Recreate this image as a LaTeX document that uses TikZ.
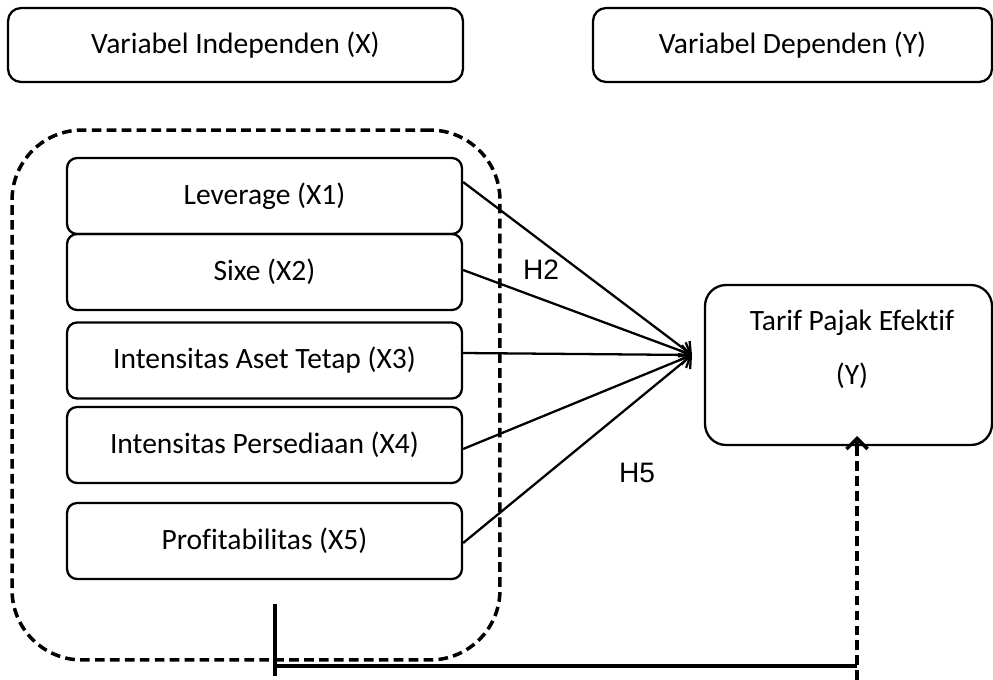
\documentclass[tikz,border=0pt]{standalone}
\usepackage{fontspec}
\setmainfont{Carlito}[Ligatures=NoCommon]
\newfontfamily\arialf{Liberation Sans}
\usetikzlibrary{arrows.meta}
\begin{document}
\begin{tikzpicture}[x=0.02cm,y=-0.02cm,
  txt/.style={font=\fontsize{16.8}{20}\selectfont},
  topbox/.style={draw,line width=1.3pt,rounded corners=0.26cm,minimum height=1.48cm,inner sep=0pt,txt},
  varbox/.style={draw,line width=1.3pt,rounded corners=0.2cm,minimum width=7.9cm,minimum height=1.52cm,inner sep=0pt,txt},
  grp/.style={draw,line width=2pt,dash pattern=on 5.5pt off 3pt,rounded corners=1.4cm,minimum width=9.76cm,minimum height=10.6cm,inner sep=0pt},
  hlab/.style={font=\arialf\fontsize{16}{19}\selectfont},
  arr/.style={line width=1.3pt,-{Straight Barb[length=5pt,width=11pt]}},
  thick1/.style={line width=2pt},
  dashline/.style={line width=2pt,dash pattern=on 5.5pt off 3pt},
  tiponly/.style={line width=2pt,-{Straight Barb[length=6pt,width=12pt]}}
]
\useasboundingbox (0,0) rectangle (993,679);
% header boxes
\node[topbox,minimum width=9.1cm] (indep) at (235.5,45) {Variabel Independen (X)};
\node[topbox,minimum width=7.98cm] (dep) at (792.5,45) {Variabel Dependen (Y)};
% dashed group
\node[grp] (group) at (256,395) {};
% variable boxes
\node[varbox] (x1) at (264.5,196) {Leverage (X1)};
\node[varbox] (x2) at (264.5,272) {Sixe (X2)};
\node[varbox] (x3) at (264.5,360.5) {Intensitas Aset Tetap (X3)};
\node[varbox] (x4) at (264.5,445) {Intensitas Persediaan (X4)};
\node[varbox] (x5) at (264.5,541) {Profitabilitas (X5)};
% dependent box
\node[draw,line width=1.3pt,rounded corners=0.42cm,minimum width=5.74cm,minimum height=3.2cm,inner sep=0pt] (tarif) at (848.5,365) {};
\node[txt,align=center] (tariftext) at (852,349.5) {Tarif Pajak Efektif\\[11pt](Y)};
% hub
\coordinate (hub) at (692,355);
\draw[arr] ([yshift=0.28cm]x1.east) -- (hub);
\draw[arr] ([yshift=0.04cm]x2.east) -- (hub);
\draw[arr] ([yshift=0.15cm]x3.east) -- (hub);
\draw[arr] ([yshift=-0.08cm]x4.east) -- (hub);
\draw[arr] ([yshift=-0.04cm]x5.east) -- (hub);
% labels
\node[hlab] (h2) at (541,270) {H2};
\node[hlab] (h5) at (637,473) {H5};
% bottom connector
\coordinate (v1) at (275,604);
\coordinate (v2) at (275,676);
\coordinate (hl) at (275,666);
\coordinate (hr) at (857,666);
\coordinate (bot) at (857,680);
\coordinate (tip) at (857,436);
\coordinate (tipb) at (857,446);
\draw[thick1] (v1) -- (v2);
\draw[thick1] (hl) -- (hr);
\draw[dashline] (bot) -- (tipb);
\draw[tiponly] (tipb) -- (tip);
\end{tikzpicture}
\end{document}
